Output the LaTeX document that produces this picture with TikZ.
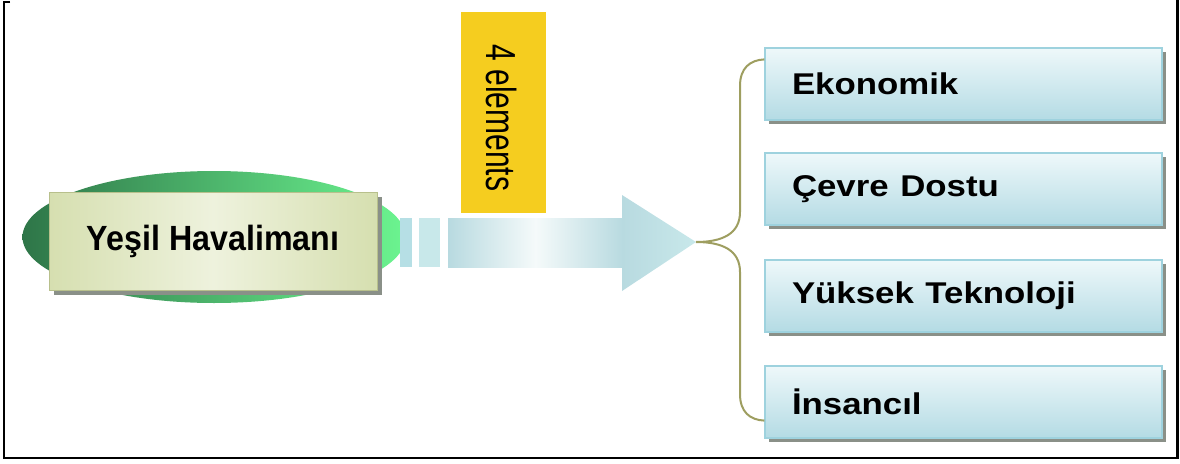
\documentclass[tikz,border=0pt]{standalone}
\usepackage{fontspec}
\setmainfont{Liberation Sans}
\usepackage{graphicx}
\usetikzlibrary{shapes.geometric,shadows,calc}
\definecolor{ellDark}{HTML}{2E7548}
\definecolor{ellLight}{HTML}{6CF590}
\definecolor{cMid}{HTML}{EEF2DD}
\definecolor{cSide}{HTML}{D6DFB0}
\definecolor{cBorder}{HTML}{B8C08C}
\definecolor{shadowc}{HTML}{8A9088}
\definecolor{arrowDark}{HTML}{B8DAE0}
\definecolor{arrowLight}{HTML}{F5FAFA}
\definecolor{stripeA}{HTML}{B6DFE5}
\definecolor{stripeB}{HTML}{C8E8EA}
\definecolor{yellowc}{HTML}{F5CD1F}
\definecolor{bracec}{HTML}{9E9E60}
\definecolor{boxTop}{HTML}{EEF8FA}
\definecolor{boxBot}{HTML}{B4DBE4}
\definecolor{boxBorder}{HTML}{9ED2DE}
\tikzset{
  rbox/.style={rectangle, minimum width=397pt, minimum height=72pt,
    text width=343pt, inner xsep=27pt, align=left,
    top color=boxTop, bottom color=boxBot, draw=boxBorder, line width=1.2pt,
    drop shadow={shadow xshift=4pt, shadow yshift=-4pt, opacity=1, fill=shadowc},
    font=\fontsize{30}{35}\selectfont\bfseries},
  bracel/.style={draw=bracec, line width=2pt},
}
\begin{document}
\begin{tikzpicture}[x=1pt,y=-1pt]
\useasboundingbox (0,0) rectangle (1180,463);
% frame
\draw[line width=2.5pt] (10,2) -- (4,2) -- (4,458) -- (1177.5,458) -- (1177.5,0);
% ellipse
\node[ellipse, minimum width=383pt, minimum height=132pt, left color=ellDark, right color=ellLight, inner sep=0pt] (ell) at (214,237) {};
% central box
\node[rectangle, minimum width=328pt, minimum height=98pt, left color=cSide, right color=cSide, middle color=cMid, draw=cBorder, line width=1pt,
  drop shadow={shadow xshift=5pt, shadow yshift=-5pt, opacity=1, fill=shadowc},
  font=\fontsize{35}{40}\selectfont\bfseries] (center) at (213,241) {\scalebox{0.92}[1]{Yeşil Havalimanı}};
% stripes
\fill[stripeA] (400,218) rectangle (412,267);
\fill[stripeB] (419,218) rectangle (440,267);
% arrow
\shade[left color=arrowDark, right color=arrowDark, middle color=arrowLight] (448,218) rectangle (623,267);
\shade[left color=arrowDark, right color=stripeB] (622,195) -- (696,242) -- (622,291) -- cycle;
\coordinate (tip) at (696,242);
% yellow label
\node[rectangle, minimum width=85pt, minimum height=201pt, fill=yellowc, inner sep=0pt] (lab) at (503.5,112.5) {};
\node[rotate=-90, font=\fontsize{30}{36}\selectfont, inner sep=0pt] (labtext) at (502,118) {\scalebox{1}[1.4]{4 elements}};
% right boxes
\node[rbox] (b1) at (963.5,84) {\scalebox{1.16}[1]{Ekonomik}};
\node[rbox] (b2) at (963.5,189) {\scalebox{1.16}[1]{Çevre Dostu}};
\node[rbox] (b3) at (963.5,296) {\scalebox{1.16}[1]{Yüksek Teknoloji}};
\node[rbox] (b4) at (963.5,402) {\scalebox{1.16}[1]{İnsancıl}};
% brace
\draw[bracel] (tip) .. controls (722,242) and (740,234) .. (740,212) -- (740,86)
  .. controls (740,68) and (750,60) .. ($(b1.north west)+(0,12)$);
\draw[bracel] (tip) .. controls (722,242) and (740,250) .. (740,272) -- (740,394)
  .. controls (740,412) and (750,420) .. ($(b4.south west)+(0,-18)$);
\end{tikzpicture}
\end{document}
